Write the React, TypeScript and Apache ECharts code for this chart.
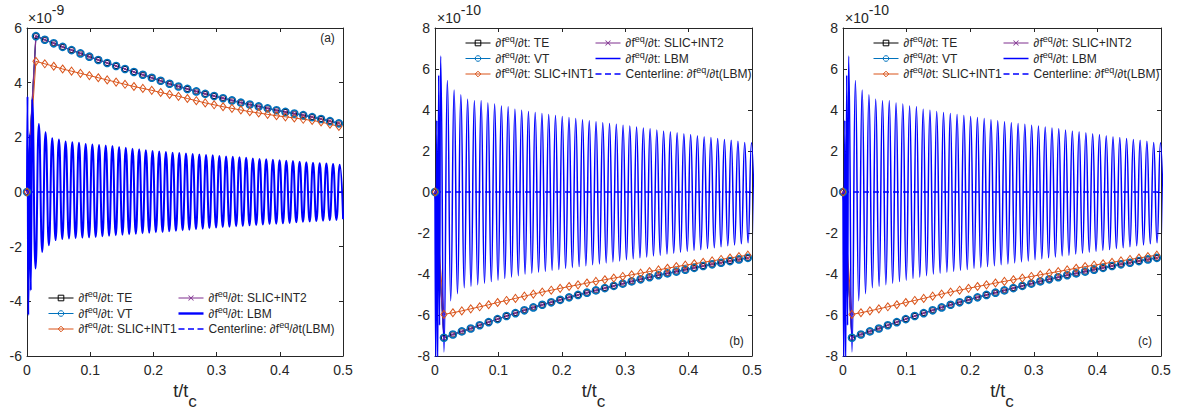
import React, { useEffect, useRef } from 'react';
import * as echarts from 'echarts';

const FONT = '"Liberation Sans", Arial, Helvetica, sans-serif';
const INK = '#262626';

// ---------- axes ----------
const X_TICKS = [0, 0.1, 0.2, 0.3, 0.4, 0.5];
const Y_TICKS_A = [-6, -4, -2, 0, 2, 4, 6];
const Y_TICKS_BC = [-8, -6, -4, -2, 0, 2, 4, 6, 8];
const EXPONENTS = ['-9', '-10', '-10'];
const PANEL_TAGS = ['(a)', '(b)', '(c)'];

// ---------- marker series (sampled every MARKER_STEP in t/t_c) ----------
const MARKER_STEP = 0.0141;

// panel (a), units of 1e-9
const A_TE = [0, 5.70, 5.57, 5.44, 5.31, 5.19, 5.07, 4.95, 4.83, 4.72, 4.61, 4.50, 4.39, 4.29, 4.18, 4.07, 3.96, 3.86, 3.77, 3.68, 3.59, 3.51, 3.43, 3.35, 3.27, 3.20, 3.13, 3.06, 2.99, 2.93, 2.87, 2.81, 2.74, 2.67, 2.59, 2.51];
const A_VT = [0, 5.70, 5.57, 5.44, 5.31, 5.19, 5.07, 4.95, 4.83, 4.72, 4.61, 4.50, 4.39, 4.29, 4.18, 4.07, 3.96, 3.86, 3.77, 3.68, 3.59, 3.51, 3.43, 3.35, 3.27, 3.20, 3.13, 3.06, 2.99, 2.93, 2.87, 2.81, 2.74, 2.67, 2.59, 2.51];
const A_INT2 = [0, 5.70, 5.57, 5.44, 5.31, 5.19, 5.07, 4.95, 4.83, 4.72, 4.61, 4.50, 4.39, 4.29, 4.18, 4.07, 3.96, 3.86, 3.77, 3.68, 3.59, 3.51, 3.43, 3.35, 3.27, 3.20, 3.13, 3.06, 2.99, 2.93, 2.87, 2.81, 2.74, 2.67, 2.59, 2.51];
const A_INT1 = [0, 4.78, 4.69, 4.60, 4.50, 4.42, 4.34, 4.26, 4.18, 4.10, 4.02, 3.94, 3.86, 3.79, 3.72, 3.64, 3.57, 3.50, 3.42, 3.34, 3.26, 3.19, 3.12, 3.06, 3.00, 2.94, 2.89, 2.84, 2.79, 2.75, 2.71, 2.66, 2.62, 2.56, 2.48, 2.40];

// panels (b) and (c), units of 1e-10
const B_TE = [0, -7.11, -6.95, -6.80, -6.66, -6.50, -6.35, -6.20, -6.05, -5.91, -5.77, -5.63, -5.50, -5.38, -5.26, -5.14, -5.02, -4.91, -4.80, -4.69, -4.58, -4.47, -4.36, -4.26, -4.16, -4.06, -3.97, -3.88, -3.79, -3.70, -3.61, -3.53, -3.45, -3.37, -3.29, -3.21];
const B_VT = [0, -7.11, -6.95, -6.80, -6.66, -6.50, -6.35, -6.20, -6.05, -5.91, -5.77, -5.63, -5.50, -5.38, -5.26, -5.14, -5.02, -4.91, -4.80, -4.69, -4.58, -4.47, -4.36, -4.26, -4.16, -4.06, -3.97, -3.88, -3.79, -3.70, -3.61, -3.53, -3.45, -3.37, -3.29, -3.21];
const B_INT2 = [0, -7.11, -6.95, -6.80, -6.66, -6.50, -6.35, -6.20, -6.05, -5.91, -5.77, -5.63, -5.50, -5.38, -5.26, -5.14, -5.02, -4.91, -4.80, -4.69, -4.58, -4.47, -4.36, -4.26, -4.16, -4.06, -3.97, -3.88, -3.79, -3.70, -3.61, -3.53, -3.45, -3.37, -3.29, -3.21];
const B_INT1 = [0, -5.97, -5.89, -5.80, -5.70, -5.60, -5.50, -5.39, -5.29, -5.19, -5.08, -4.98, -4.88, -4.79, -4.70, -4.61, -4.53, -4.44, -4.36, -4.28, -4.20, -4.12, -4.04, -3.96, -3.88, -3.80, -3.72, -3.64, -3.57, -3.50, -3.43, -3.36, -3.29, -3.22, -3.15, -3.08];

// ---------- LBM oscillation: start-up points, then one peak and one trough per period ----------
const A_LBM_START = [[0, 0], [0.0008, 3.5], [0.002, -4.5], [0.0045, 2.1], [0.006, -3.6]];
const A_LBM_T0 = 0.0082;
const A_LBM_PERIOD = 0.01058;
const A_LBM_PEAKS = [3.40, 2.49, 2.19, 1.97, 1.92, 1.85, 1.82, 1.80, 1.76, 1.74, 1.72, 1.70, 1.68, 1.65, 1.62, 1.58, 1.56, 1.53, 1.50, 1.48, 1.46, 1.44, 1.43, 1.41, 1.39, 1.37, 1.35, 1.34, 1.32, 1.30, 1.29, 1.27, 1.25, 1.23, 1.21, 1.20, 1.18, 1.16, 1.14, 1.13, 1.11, 1.09, 1.07, 1.05, 1.04, 1.02, 1.00];
const A_LBM_TROUGHS = [-2.80, -2.19, -1.95, -1.76, -1.72, -1.70, -1.68, -1.67, -1.66, -1.64, -1.62, -1.60, -1.58, -1.56, -1.55, -1.53, -1.51, -1.49, -1.47, -1.46, -1.44, -1.42, -1.40, -1.38, -1.36, -1.34, -1.32, -1.30, -1.28, -1.27, -1.25, -1.24, -1.22, -1.21, -1.19, -1.17, -1.16, -1.14, -1.13, -1.11, -1.09, -1.08, -1.06, -1.05, -1.03, -1.02, -1.00];

const B_LBM_START = [[0, 0], [0.0012, -8.6], [0.0028, 3.5], [0.0042, -8.6], [0.0058, 5.7], [0.0072, -6.5]];
const B_LBM_T0 = 0.0088;
const B_LBM_PERIOD = 0.01066;
const B_LBM_PEAKS = [6.63, 5.44, 4.98, 4.75, 4.53, 4.45, 4.45, 4.34, 4.29, 4.19, 4.16, 4.04, 3.99, 3.93, 3.88, 3.83, 3.78, 3.73, 3.68, 3.63, 3.58, 3.53, 3.48, 3.43, 3.38, 3.34, 3.30, 3.26, 3.22, 3.17, 3.12, 3.08, 3.03, 2.98, 2.94, 2.89, 2.84, 2.80, 2.75, 2.70, 2.66, 2.61, 2.56, 2.52, 2.47, 2.42, 2.40];
const B_LBM_TROUGHS = [-7.8, -5.3, -4.96, -4.67, -4.60, -4.52, -4.45, -4.37, -4.30, -4.22, -4.15, -4.08, -4.00, -3.96, -3.91, -3.87, -3.82, -3.78, -3.73, -3.69, -3.64, -3.60, -3.55, -3.51, -3.46, -3.41, -3.36, -3.30, -3.26, -3.21, -3.17, -3.12, -3.08, -3.03, -2.99, -2.94, -2.90, -2.85, -2.81, -2.76, -2.72, -2.67, -2.62, -2.58, -2.53, -2.48, -2.45];

const CENTERLINE = [0, 0];

// ---------- styling / layout ----------
const COLORS = { TE: '#000000', VT: '#0072BD', INT1: '#D95319', INT2: '#7E2F8E', LBM: '#0000FF', CL: '#0000FF' };
const X_SYMBOL = 'path://M0,1L1,0L5,4L9,0L10,1L6,5L10,9L9,10L5,6L1,10L0,9L4,5Z';
const LBM_ICON_THICK = 'path://M0,0L25,0L25,2.4L0,2.4Z';
const LBM_ICON_THIN = 'path://M0,0L25,0L25,1.5L0,1.5Z';
const CL_ICON = 'path://M0,0L6,0L6,1.5L0,1.5ZM9.5,0L15.5,0L15.5,1.5L9.5,1.5ZM19,0L25,0L25,1.5L19,1.5Z';

const LEGEND_TEXT: Record<string, string> = {
  TE: '{p|∂}{n|f}{s|eq}{n|/}{p|∂}{n|t: TE}',
  VT: '{p|∂}{n|f}{s|eq}{n|/}{p|∂}{n|t: VT}',
  INT1: '{p|∂}{n|f}{s|eq}{n|/}{p|∂}{n|t: SLIC+INT1}',
  INT2: '{p|∂}{n|f}{s|eq}{n|/}{p|∂}{n|t: SLIC+INT2}',
  LBM: '{p|∂}{n|f}{s|eq}{n|/}{p|∂}{n|t: LBM}',
  CL: '{n|Centerline: }{p|∂}{n|f}{s|eq}{n|/}{p|∂}{n|t(LBM)}',
};

const PANELS = [
  {
    id: 'a', grid: { left: 27, top: 28, width: 316, height: 328 }, yTicks: Y_TICKS_A,
    te: A_TE, vt: A_VT, int1: A_INT1, int2: A_INT2,
    lbm: [A_LBM_START, A_LBM_T0, A_LBM_PERIOD, A_LBM_PEAKS, A_LBM_TROUGHS], lbmWidth: 2, lbmIcon: LBM_ICON_THICK,
    legendLeft: [48, 178], legendTop: 289.5, tagPos: [327.5, 38], titleX: 185, expX: 28,
  },
  {
    id: 'b', grid: { left: 435, top: 28, width: 317, height: 328 }, yTicks: Y_TICKS_BC,
    te: B_TE, vt: B_VT, int1: B_INT1, int2: B_INT2,
    lbm: [B_LBM_START, B_LBM_T0, B_LBM_PERIOD, B_LBM_PEAKS, B_LBM_TROUGHS], lbmWidth: 1.5, lbmIcon: LBM_ICON_THIN,
    legendLeft: [465, 595], legendTop: 34.5, tagPos: [736.5, 341], titleX: 593.5, expX: 437,
  },
  {
    id: 'c', grid: { left: 843, top: 28, width: 318, height: 328 }, yTicks: Y_TICKS_BC,
    te: B_TE, vt: B_VT, int1: B_INT1, int2: B_INT2,
    lbm: [B_LBM_START, B_LBM_T0, B_LBM_PERIOD, B_LBM_PEAKS, B_LBM_TROUGHS], lbmWidth: 1.5, lbmIcon: LBM_ICON_THIN,
    legendLeft: [873, 1003], legendTop: 34.5, tagPos: [1145, 341], titleX: 1002, expX: 845,
  },
];

function markerData(vals: number[]) {
  return vals.map((v, k) => [k * MARKER_STEP, v]);
}

function lbmData(start: number[][], t0: number, period: number, peaks: number[], troughs: number[]) {
  const pts: number[][] = start.map((p) => [p[0], p[1]]);
  peaks.forEach((v, k) => {
    pts.push([t0 + k * period, v]);
    if (k < troughs.length) pts.push([t0 + (k + 0.5) * period, troughs[k]]);
  });
  return pts;
}

function markerLegendItem(name: string, color: string, symbol: string, filled = false) {
  return {
    name,
    icon: symbol,
    itemStyle: filled
      ? { color, borderWidth: 0 }
      : { color: 'rgba(0,0,0,0)', borderColor: color, borderWidth: 1 },
    lineStyle: { color, width: 1 },
  };
}

function buildOption() {
  const grid: any[] = [];
  const xAxis: any[] = [];
  const yAxis: any[] = [];
  const series: any[] = [];
  const legend: any[] = [];
  const graphic: any[] = [];

  const legendTextStyle = {
    fontSize: 12,
    fontFamily: FONT,
    color: INK,
    rich: {
      n: { fontSize: 12, fontFamily: FONT, color: INK },
      p: { fontSize: 12, fontFamily: FONT, color: INK, fontStyle: 'italic' },
      s: { fontSize: 9, fontFamily: FONT, color: INK, padding: [0, 0, 8, 0] },
    },
  };

  PANELS.forEach((p, i) => {
    grid.push({ ...p.grid });
    const xBase = {
      type: 'value',
      gridIndex: i,
      min: X_TICKS[0],
      max: X_TICKS[X_TICKS.length - 1],
      interval: X_TICKS[1] - X_TICKS[0],
      splitLine: { show: false },
      axisLine: { onZero: false, lineStyle: { color: INK, width: 1 } },
      axisTick: { inside: true, length: 4, lineStyle: { color: INK, width: 1 } },
    };
    xAxis.push({
      ...xBase,
      position: 'bottom',
      axisLabel: {
        fontSize: 14, color: INK, fontFamily: FONT, margin: 7,
        formatter: (v: number) => String(Math.round(v * 10) / 10),
      },
    });
    xAxis.push({ ...xBase, position: 'top', axisLabel: { show: false } });

    const yBase = {
      type: 'value',
      gridIndex: i,
      min: p.yTicks[0],
      max: p.yTicks[p.yTicks.length - 1],
      interval: p.yTicks[1] - p.yTicks[0],
      splitLine: { show: false },
      axisLine: { onZero: false, lineStyle: { color: INK, width: 1 } },
      axisTick: { inside: true, length: 4, lineStyle: { color: INK, width: 1 } },
    };
    yAxis.push({ ...yBase, position: 'left', axisLabel: { fontSize: 14, color: INK, fontFamily: FONT, margin: 5 } });
    yAxis.push({ ...yBase, position: 'right', axisLabel: { show: false } });

    const common = {
      type: 'line', xAxisIndex: 2 * i, yAxisIndex: 2 * i, animation: false, silent: true,
      clip: true, emphasis: { disabled: true },
    };
    series.push({
      ...common, name: 'TE@' + p.id, data: markerData(p.te), symbol: 'rect', symbolSize: 5,
      lineStyle: { color: COLORS.TE, width: 1 },
      itemStyle: { color: 'rgba(0,0,0,0)', borderColor: COLORS.TE, borderWidth: 1 },
    });
    series.push({
      ...common, name: 'VT@' + p.id, data: markerData(p.vt), symbol: 'circle', symbolSize: 7,
      lineStyle: { color: COLORS.VT, width: 1 },
      itemStyle: { color: 'rgba(0,0,0,0)', borderColor: COLORS.VT, borderWidth: 1.6 },
    });
    series.push({
      ...common, name: 'INT1@' + p.id, data: markerData(p.int1), symbol: 'diamond', symbolSize: [6, 8],
      lineStyle: { color: COLORS.INT1, width: 1 },
      itemStyle: { color: 'rgba(255,255,255,0)', borderColor: COLORS.INT1, borderWidth: 1 },
    });
    series.push({
      ...common, name: 'INT2@' + p.id, data: markerData(p.int2), symbol: X_SYMBOL, symbolSize: 5,
      lineStyle: { color: COLORS.INT2, width: 1.3 },
      itemStyle: { color: COLORS.INT2 },
    });
    const [st, t0, per, pk, tr] = p.lbm as any;
    series.push({
      ...common, name: 'LBM@' + p.id, data: lbmData(st, t0, per, pk, tr), symbol: 'none', showSymbol: false,
      smooth: 0.5, smoothMonotone: 'x',
      lineStyle: { color: COLORS.LBM, width: p.lbmWidth },
      itemStyle: { color: COLORS.LBM },
    });
    series.push({
      ...common, name: 'CL@' + p.id,
      data: [[X_TICKS[0], CENTERLINE[0]], [X_TICKS[X_TICKS.length - 1], CENTERLINE[1]]],
      symbol: 'none', showSymbol: false,
      lineStyle: { color: COLORS.CL, width: 1.5, type: [6, 4] },
      itemStyle: { color: COLORS.CL },
    });

    const legendBase = {
      orient: 'vertical', top: p.legendTop, itemGap: 1, itemWidth: 25, itemHeight: 7,
      selectedMode: false, textStyle: legendTextStyle, padding: 0,
      lineStyle: { width: 1 },
      formatter: (name: string) => LEGEND_TEXT[name.split('@')[0]],
    };
    legend.push({
      ...legendBase, left: p.legendLeft[0],
      data: [
        { name: 'TE@' + p.id, itemStyle: { color: 'rgba(0,0,0,0)', borderColor: COLORS.TE, borderWidth: 1 }, lineStyle: { width: 1 } },
        { name: 'VT@' + p.id, itemStyle: { color: 'rgba(0,0,0,0)', borderColor: COLORS.VT, borderWidth: 1 }, lineStyle: { width: 1 } },
        { name: 'INT1@' + p.id, itemStyle: { color: 'rgba(0,0,0,0)', borderColor: COLORS.INT1, borderWidth: 1 }, lineStyle: { width: 1 } },
      ],
    });
    legend.push({
      ...legendBase, left: p.legendLeft[1],
      data: [
        { name: 'INT2@' + p.id, itemStyle: { color: COLORS.INT2, borderWidth: 0 }, lineStyle: { width: 1 } },
        { name: 'LBM@' + p.id, icon: p.lbmIcon },
        { name: 'CL@' + p.id, icon: CL_ICON },
      ],
    });

    graphic.push({
      type: 'text', x: p.expX, y: 18, silent: true,
      style: {
        text: '{a|×10}{s|' + EXPONENTS[i] + '}', align: 'left', verticalAlign: 'middle',
        rich: {
          a: { fontSize: 14, fontFamily: FONT, fill: INK },
          s: { fontSize: 14, fontFamily: FONT, fill: INK, padding: [0, 0, 16, 0] },
        },
      },
    });
    graphic.push({
      type: 'text', x: p.tagPos[0], y: p.tagPos[1], silent: true,
      style: { text: PANEL_TAGS[i], align: 'center', verticalAlign: 'middle', fontSize: 12, fontFamily: FONT, fill: INK },
    });
    graphic.push({
      type: 'text', x: p.titleX, y: 391, silent: true,
      style: {
        text: '{t|t/t}{c|c}', align: 'center', verticalAlign: 'middle',
        rich: {
          t: { fontSize: 18, fontFamily: FONT, fill: INK },
          c: { fontSize: 17, fontFamily: FONT, fill: INK, padding: [20, 0, 0, 0] },
        },
      },
    });
  });

  return {
    animation: false,
    backgroundColor: '#ffffff',
    grid, xAxis, yAxis, series, legend, graphic,
  };
}

export default function App() {
  const ref = useRef<HTMLDivElement>(null);
  useEffect(() => {
    if (!ref.current) return;
    const chart = echarts.init(ref.current, null, { renderer: 'svg' });
    chart.setOption(buildOption() as any);
    return () => chart.dispose();
  }, []);
  return (
    <div
      ref={ref}
      style={{ position: 'fixed', left: 0, top: 0, width: 1179, height: 410, background: '#fff' }}
    />
  );
}
